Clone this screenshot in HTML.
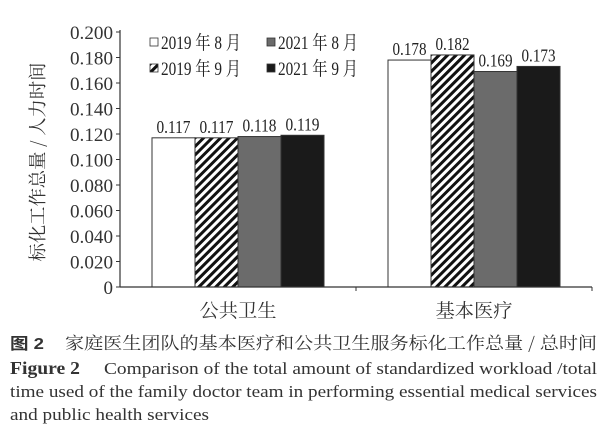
<!DOCTYPE html>
<html><head><meta charset="utf-8">
<style>
body{margin:0;background:#fff;width:610px;height:442px;overflow:hidden;font-family:"Liberation Serif","Noto Serif CJK SC",serif;}
</style></head>
<body>
<svg width="610" height="442" style="position:absolute;left:0;top:0">
<defs>
<pattern id="hatch" patternUnits="userSpaceOnUse" width="6" height="6" patternTransform="rotate(45)">
<rect width="6" height="6" fill="#fff"/><rect width="3" height="6" fill="#111"/>
</pattern>
</defs>
<g id="chart"></g>
<g fill="#333" font-size="17">
<text x="10" y="349" font-family="Liberation Sans,Noto Sans CJK SC,sans-serif" font-weight="bold" font-size="16" textLength="34" lengthAdjust="spacingAndGlyphs">图 2</text>
<text x="65" y="349" font-family="Noto Serif CJK SC,serif" textLength="532" lengthAdjust="spacingAndGlyphs">家庭医生团队的基本医疗和公共卫生服务标化工作总量 / 总时间</text>
<text x="10" y="374" font-weight="bold" font-size="18" textLength="70" lengthAdjust="spacingAndGlyphs">Figure 2</text>
<text x="104" y="374" textLength="493" lengthAdjust="spacingAndGlyphs">Comparison of the total amount of standardized workload /total</text>
<text x="10" y="397" textLength="587" lengthAdjust="spacingAndGlyphs">time used of the family doctor team in performing essential medical services</text>
<text x="10" y="420" textLength="199" lengthAdjust="spacingAndGlyphs">and public health services</text>
</g>
</svg>
<script>
const categories=["公共卫生","基本医疗"];
const seriesNames=["2019 年 8 月","2019 年 9 月","2021 年 8 月","2021 年 9 月"];
const s2019Aug=[0.117,0.178];
const s2019Sep=[0.117,0.182];
const s2021Aug=[0.118,0.169];
const s2021Sep=[0.119,0.173];
const yTicks=[0,0.02,0.04,0.06,0.08,0.1,0.12,0.14,0.16,0.18,0.2];
const yTickLabels=["0","0.020","0.040","0.060","0.080","0.100","0.120","0.140","0.160","0.180","0.200"];
const series=[s2019Aug,s2019Sep,s2021Aug,s2021Sep];
const fills=["#fff","url(#hatch)","#6b6b6b","#1a1a1a"];
const NS="http://www.w3.org/2000/svg";
const g=document.getElementById('chart');
const x0=120,x1=592,yb=287,yt=32;
const y=v=>yb-(v/0.2)*(yb-yt);
const catW=(x1-x0)/categories.length;
const barW=43;
function el(t,a,txt){const e=document.createElementNS(NS,t);for(const k in a)e.setAttribute(k,a[k]);if(txt!==undefined)e.textContent=txt;g.appendChild(e);return e;}
yTicks.forEach((v,i)=>{
 const t=el('line',{x1:x0-4,x2:x0,y1:y(v),y2:y(v),stroke:'#333'});
 
 
 const lab=yTickLabels[i];
 const a={x:x0-7,y:y(v)+7,'text-anchor':'end','font-size':19,fill:'#333'};
 if(lab.length>1){a.textLength=lab.length*8.6;a.lengthAdjust='spacingAndGlyphs';}
 const l=el('text',a,lab);
 
 
});
categories.forEach((c,ci)=>{
 const cx=x0+catW*(ci+0.5);
 const start=cx-barW*series.length/2;
 series.forEach((s,si)=>{
  const bx=start+si*barW;
  const r=el('rect',{x:bx,y:y(s[ci]),width:barW,height:yb-y(s[ci]),fill:fills[si],stroke:'#333','stroke-width':1});
  
  
  const vl=el('text',{x:bx+barW/2,y:y(s[ci])-5,'text-anchor':'middle','font-size':18,fill:'#222',textLength:34,lengthAdjust:'spacingAndGlyphs'},s[ci].toFixed(3));
  
  
 });
 const cl=el('text',{x:cx,y:317,'text-anchor':'middle','font-size':19,fill:'#333','font-family':'Noto Serif CJK SC,serif',textLength:77,lengthAdjust:'spacingAndGlyphs'},c);
 
 
 const tk=el('line',{x1:x0+catW*(ci+1),x2:x0+catW*(ci+1),y1:yb,y2:yb+4,stroke:'#333'});
 
 
});
const ax=el('line',{x1:x0,x2:x0,y1:yt-2,y2:yb,stroke:'#333','stroke-width':1.2});


const bx=el('line',{x1:x0,x2:x1,y1:yb,y2:yb,stroke:'#333','stroke-width':1.2});


const yt2=el('text',{x:0,y:0,'text-anchor':'middle','font-size':18,fill:'#333',transform:'translate(44,162) rotate(-90)','font-family':'Noto Serif CJK SC,serif',textLength:199,lengthAdjust:'spacingAndGlyphs'},'标化工作总量 / 人力时间');


const legPos=[[150,42],[150,68],[267,42],[267,68]];
seriesNames.forEach((n,i)=>{
 const [lx,ly]=legPos[i];
 const sq=el('rect',{x:lx,y:ly-4,width:8,height:8,fill:fills[i],stroke:'#333','stroke-width':0.8});
 
 
 const lt=el('text',{x:lx+6+5,y:ly+7,'font-size':19,fill:'#222',textLength:80,lengthAdjust:'spacingAndGlyphs'},n);
 
 
});
</script>
</body></html>
